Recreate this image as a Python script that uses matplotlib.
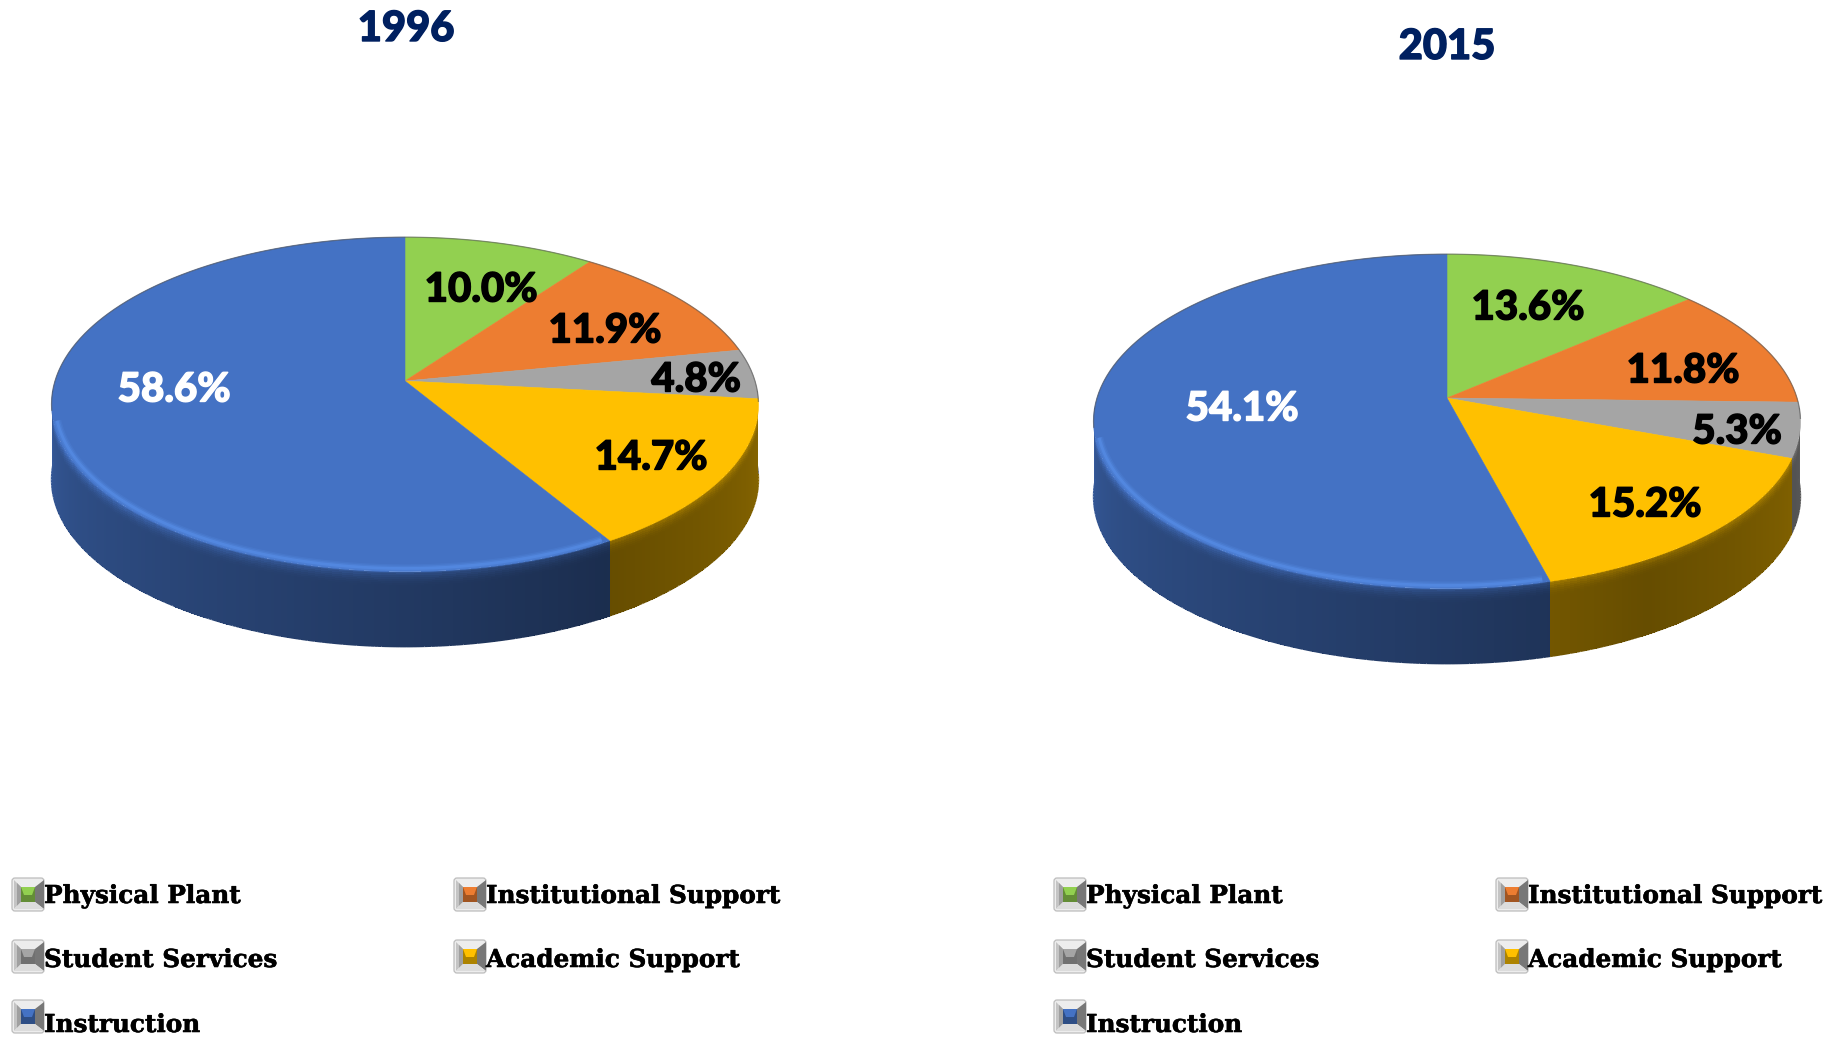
import matplotlib
matplotlib.use("Agg")
import matplotlib.pyplot as plt
import matplotlib.patheffects as pe
from matplotlib.colors import to_rgb
from matplotlib.patches import FancyBboxPatch, Polygon
import numpy as np

# ── Data ──────────────────────────────────────────────────────────────────────
categories = ["Physical Plant", "Institutional Support", "Student Services",
              "Academic Support", "Instruction"]
values_1996 = [10.0, 11.9, 4.8, 14.7, 58.6]
values_2015 = [13.6, 11.8, 5.3, 15.2, 54.1]
years = ["1996", "2015"]

# ── Style ─────────────────────────────────────────────────────────────────────
COLORS = ["#92D050", "#ED7D31", "#A5A5A5", "#FFC000", "#4472C4"]
LABEL_COLORS = ["black", "black", "black", "black", "white"]
NAVY = "#002060"
LABEL_FONT = ["Lato", "DejaVu Sans"]
LEGEND_FONT = "DejaVu Serif"

RX, K, A = 350.0, 0.14, 164.0   # perspective of the disc
DEPTH = 75

PIE_CENTERS = [(405, 381), (1447, 398)]
TITLE_POS = [(406, 29), (1447, 47)]
LABEL_POS = [
    [(481, 290), (605, 331), (696, 380), (651, 458), (174, 390)],
    [(1528, 308), (1683, 371), (1737, 432), (1645, 505), (1242, 409)],
]
LEGEND_X0 = [12, 1054]
LEGEND_COL = 442
LEGEND_ROWS = [(878, 903), (940, 967), (1000, 1032)]
LEGEND_SLOTS = [(0, 0), (1, 0), (0, 1), (1, 1), (0, 2)]


def project(theta_deg, cx, cy, r=1.0):
    t = np.radians(theta_deg)
    u, v = r * np.sin(t), r * np.cos(t)
    d = 1 + K * v
    return cx + RX * u / d, cy - A * v / d


def wall_shade(theta):
    return np.interp(theta, [90, 150, 180, 240, 270], [0.55, 0.40, 0.50, 0.68, 0.80])


def draw_pie(ax, values, center):
    cx, cy = center
    edges = np.concatenate([[0], np.cumsum(values)]) / np.sum(values) * 360

    # side wall, only the part turned to the viewer
    for i, col in enumerate(COLORS):
        lo, hi = max(edges[i], 92), min(edges[i + 1], 268)
        if hi <= lo:
            continue
        th = np.linspace(lo, hi, max(int(hi - lo) * 2, 2) + 1)
        x, y = project(th, cx, cy)
        s = np.linspace(0, 1, 41)
        X = np.outer(np.ones_like(s), x)
        Y = np.outer(np.ones_like(s), y) + np.outer(s, np.ones_like(y)) * DEPTH
        th_mid = (th[:-1] + th[1:]) / 2
        s_mid = (s[:-1] + s[1:]) / 2
        lift = 1 + 0.45 * np.clip(1 - s_mid / 0.2, 0, 1) ** 2
        rgb = np.array(to_rgb(col))
        C = np.clip(np.outer(lift, wall_shade(th_mid))[:, :, None] * rgb, 0, 1)
        ax.pcolormesh(X, Y, C, shading="flat", antialiased=False, zorder=2)
        # smooth the stepped lower edge
        base = rgb * wall_shade(th)[:, None]
        for j in range(len(th) - 1):
            ax.plot(x[j:j + 2], y[j:j + 2] + DEPTH, color=base[j], lw=1.0,
                    solid_capstyle="butt", zorder=2)

    # top face
    for i, col in enumerate(COLORS):
        th = np.linspace(edges[i], edges[i + 1], 120)
        x, y = project(th, cx, cy)
        pts = np.column_stack([np.r_[cx, x], np.r_[cy, y]])
        ax.add_patch(Polygon(pts, closed=True, facecolor=col, edgecolor=col,
                             linewidth=0.4, zorder=3))

    # soft bright rim on the blue near edge, thin dark line on the far edge
    th = np.linspace(max(edges[4], 97) + 1, 256, 160)
    x, y = project(th, cx, cy, r=0.99)
    for lw, alpha in [(6, 0.16), (4, 0.26), (2, 0.45)]:
        ax.plot(x, y - 1, color="#5B93EE", lw=lw, alpha=alpha, zorder=4,
                solid_capstyle="butt")
    th = np.linspace(-100, 97, 200)
    x, y = project(th, cx, cy)
    ax.plot(x, y, color="#555555", lw=0.9, alpha=0.6, zorder=4)


def draw_key(ax, x, y, col):
    w, h = 32, 33
    ax.add_patch(FancyBboxPatch((x, y), w, h, boxstyle="round,pad=0,rounding_size=3",
                                facecolor="#EDEDED", edgecolor="#BDBDBD", lw=0.9, zorder=5))
    ix0, ix1, iy0, iy1 = x + 9, x + 23, y + 9, y + 24
    ax.add_patch(Polygon([(x + 2, y + 2), (ix0, iy0), (ix0, iy1), (x + 2, y + h - 2)],
                         facecolor="#C4C4C4", edgecolor="none", zorder=6))
    ax.add_patch(Polygon([(x + 5, y + 5), (ix0, iy0), (ix0, iy1), (x + 5, y + h - 5)],
                         facecolor="#A0A0A0", edgecolor="none", zorder=6))
    ax.add_patch(Polygon([(x + w, y + 2), (ix1, iy0), (ix1, iy1), (x + w, y + h - 2)],
                         facecolor="#777777", edgecolor="none", zorder=6))
    ax.add_patch(Polygon([(x + 2, y + h - 2), (ix0, iy1), (ix1, iy1), (x + w, y + h - 2)],
                         facecolor="#DCDCDC", edgecolor="none", zorder=6))
    rgb = np.array(to_rgb(col))
    ax.add_patch(Polygon([(ix0, iy0), (ix1, iy0), (ix1, iy1), (ix0, iy1)],
                         facecolor=rgb * 0.68, edgecolor="none", zorder=7))
    ax.add_patch(Polygon([(ix0, iy0), (ix1, iy0), (ix1 - 3, iy0 + 8), (ix0 + 3, iy0 + 8)],
                         facecolor=rgb, edgecolor="none", zorder=8))


fig = plt.figure(figsize=(18.4, 10.38), dpi=100)
ax = fig.add_axes([0, 0, 1, 1])
ax.set_xlim(0, 1840)
ax.set_ylim(1038, 0)
ax.axis("off")

for n, values in enumerate([values_1996, values_2015]):
    draw_pie(ax, values, PIE_CENTERS[n])

    t = ax.text(*TITLE_POS[n], years[n], ha="center", va="center", fontsize=30,
                fontweight="black", color=NAVY, family=LABEL_FONT, zorder=10)
    t.set_path_effects([pe.withStroke(linewidth=1.0, foreground=NAVY)])

    for val, pos, col in zip(values, LABEL_POS[n], LABEL_COLORS):
        t = ax.text(*pos, f"{val:.1f}%", ha="center", va="center", fontsize=29,
                    fontweight="black", color=col, family=LABEL_FONT, zorder=10)
        t.set_path_effects([pe.withStroke(linewidth=1.0, foreground=col)])

    for name, col, (c, r) in zip(categories, COLORS, LEGEND_SLOTS):
        x = LEGEND_X0[n] + c * LEGEND_COL
        key_y, base_y = LEGEND_ROWS[r]
        draw_key(ax, x, key_y, col)
        t = ax.text(x + 32, base_y, name, ha="left", va="baseline", fontsize=17.8,
                    fontweight="bold", color="black", family=LEGEND_FONT, zorder=10)
        t.set_path_effects([pe.withStroke(linewidth=0.4, foreground="black")])

fig.savefig("out.png", dpi=100, facecolor="white")
plt.close("all")
